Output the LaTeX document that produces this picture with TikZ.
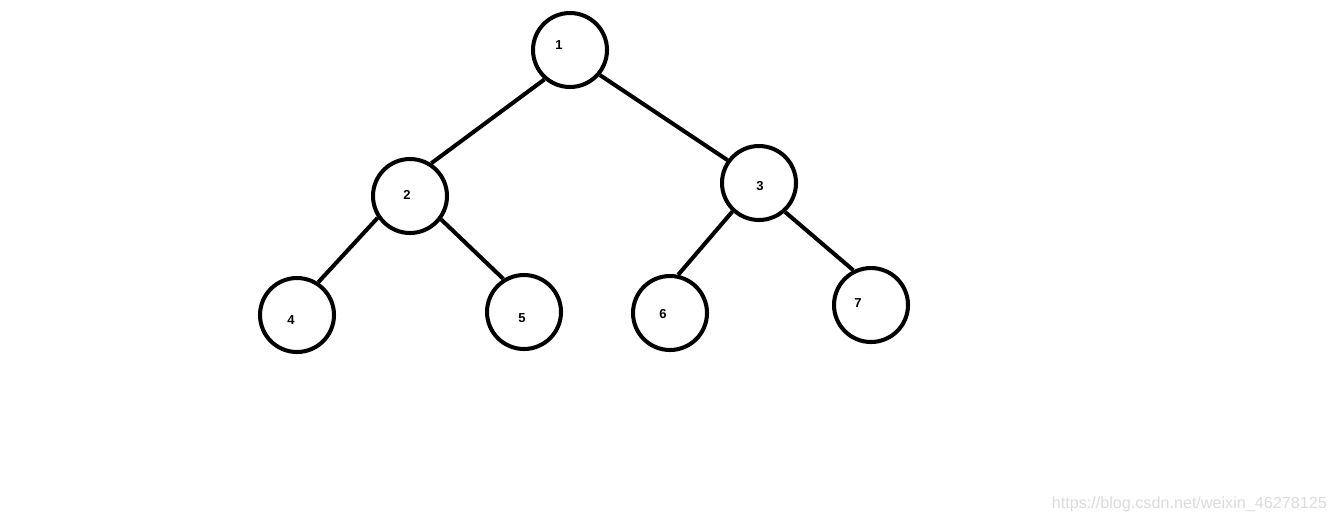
\documentclass[tikz,border=0pt]{standalone}
\usepackage{fontspec}
\setsansfont{Liberation Sans}
\usetikzlibrary{positioning}
\definecolor{MarkGray}{rgb}{0.86, 0.86, 0.86}

\begin{document}
\begin{tikzpicture}[
    x=0.02cm, y=-0.02cm,
    font=\sffamily,
    vtx/.style={circle, draw=black, line width=2.3pt, minimum size=1.48cm, inner sep=0pt},
    num/.style={font=\sffamily\bfseries\fontsize{7.4pt}{8pt}\selectfont},
    link/.style={line width=2.3pt, black},
]
\useasboundingbox (0,0) rectangle (1337,522);

% --- nodos del arbol ---
\node[vtx, label={[num, xshift=-0.22cm, yshift=0.10cm]center:1}] (n1) at (570,50) {};
\node[vtx, label={[num, xshift=-0.06cm, yshift=0.02cm]center:2}] (n2) at (410,196) {};
\node[vtx, label={[num, xshift=0.02cm, yshift=-0.06cm]center:3}] (n3) at (759,183) {};
\node[vtx, label={[num, xshift=-0.12cm, yshift=-0.10cm]center:4}] (n4) at (297,315) {};
\node[vtx, label={[num, xshift=-0.04cm, yshift=-0.12cm]center:5}] (n5) at (524,312) {};
\node[vtx, label={[num, xshift=-0.14cm, yshift=-0.02cm]center:6}] (n6) at (670,313) {};
\node[vtx, label={[num, xshift=-0.26cm, yshift=0.04cm]center:7}] (n7) at (871,305) {};

% --- aristas ---
\draw[link] (n1.229) -- (n2.57);
\draw[link] (n1.320) -- (n3.144);
\draw[link] (n2.214) -- (n4.57);
\draw[link] (n2.323) -- (n5.122);
\draw[link] (n3.227) -- (n6.78);
\draw[link] (n3.312) -- (n7.117);

% --- marca de agua ---
\node[anchor=east, text=MarkGray, font=\sffamily\fontsize{9.2pt}{11pt}\selectfont] (mark) at (1333,504)
    {https://blog.csdn.net/weixin\_46278125};

\end{tikzpicture}
\end{document}
